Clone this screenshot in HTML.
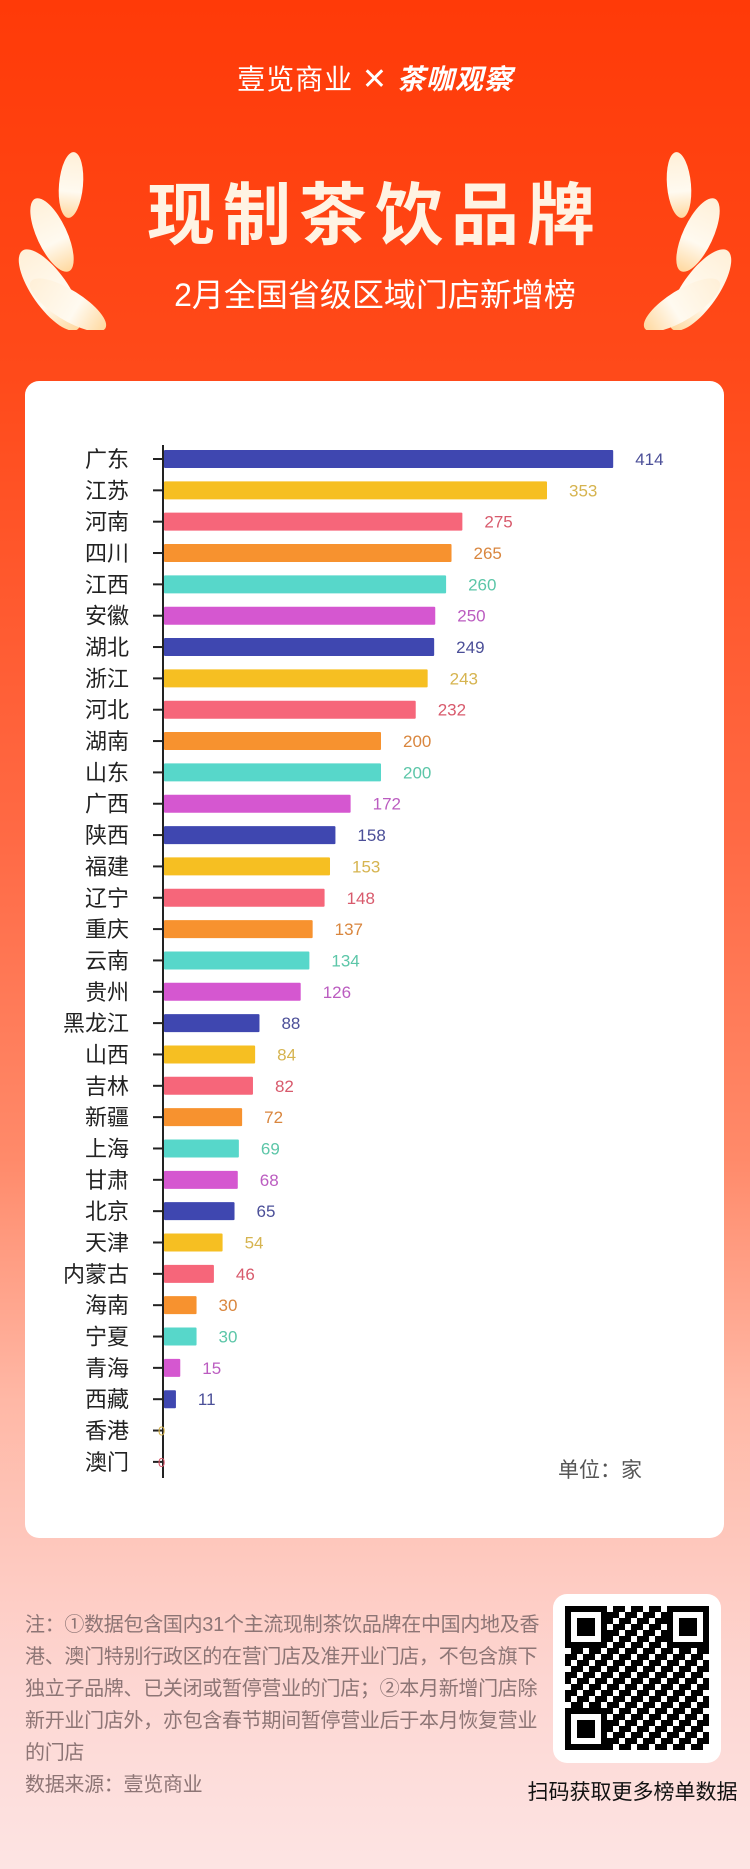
<!DOCTYPE html>
<html><head><meta charset="utf-8"><style>
html,body{margin:0;padding:0}
body{width:750px;height:1869px;position:relative;overflow:hidden;font-family:"Liberation Sans","Noto Sans CJK SC",sans-serif;
background:linear-gradient(180deg,#ff3a08 0%,#ff4a1a 20%,#ff6a45 45%,#ff8a6a 62%,#ffb8a6 75%,#fdd6d2 90%,#fde4e3 100%);}
.abs{position:absolute}
.card{left:25px;top:381px;width:699px;height:1157px;background:#fff;border-radius:14px}
.note{left:25px;top:1609px;font-size:20px;letter-spacing:-0.3px;line-height:32px;color:#8d7575;white-space:nowrap}
</style></head><body>
<div class="abs" style="left:0;top:58px;width:750px;text-align:center;color:#fff;font-size:28px;font-weight:bold;letter-spacing:1px">
<span style="font-weight:normal">壹览商业</span> <span style="font-weight:normal;font-size:30px">✕</span> <i>茶咖观察</i></div>
<div class="abs" style="left:0;top:160px;width:750px;text-align:center;color:#fff3e3;font-size:68px;font-weight:bold;letter-spacing:8px">现制茶饮品牌</div>
<div class="abs" style="left:0;top:270px;width:750px;text-align:center;color:#fff;font-size:32px">2月全国省级区域门店新增榜</div>
<svg class="abs" style="left:0;top:150px" width="750" height="180">
<defs><linearGradient id="lf" x1="0" y1="0" x2="0" y2="1"><stop offset="0" stop-color="#fff0d8"/><stop offset="0.6" stop-color="#fffaf0"/><stop offset="1" stop-color="#ffd9a0"/></linearGradient></defs>
<g fill="url(#lf)">
<ellipse cx="71" cy="35" rx="12" ry="33" transform="rotate(5 71 35)"/>
<ellipse cx="52" cy="85" rx="15" ry="40" transform="rotate(-25 52 85)"/>
<ellipse cx="50" cy="140" rx="18" ry="48" transform="rotate(-35 50 140)"/>
<ellipse cx="68" cy="155" rx="15" ry="44" transform="rotate(-58 68 155)"/>
<ellipse cx="679" cy="35" rx="12" ry="33" transform="rotate(-5 679 35)"/>
<ellipse cx="698" cy="85" rx="15" ry="40" transform="rotate(25 698 85)"/>
<ellipse cx="700" cy="140" rx="18" ry="48" transform="rotate(35 700 140)"/>
<ellipse cx="682" cy="155" rx="15" ry="44" transform="rotate(58 682 155)"/>
</g></svg>
<div class="abs card"></div>
<svg class="abs" style="left:0;top:0" width="750" height="1560" font-family="Liberation Sans, Noto Sans CJK SC, sans-serif">
<line x1="163" y1="445" x2="163" y2="1478" stroke="#222" stroke-width="2"/>
<g id="rows"></g>
<text x="558" y="1477" font-size="21" fill="#555">单位：家</text>
</svg>
<div class="abs note">注：①数据包含国内31个主流现制茶饮品牌在中国内地及香<br>港、澳门特别行政区的在营门店及准开业门店，不包含旗下<br>独立子品牌、已关闭或暂停营业的门店；②本月新增门店除<br>新开业门店外，亦包含春节期间暂停营业后于本月恢复营业<br>的门店<br>数据来源：壹览商业</div>
<div class="abs" style="left:553px;top:1594px;width:168px;height:169px;background:#fff;border-radius:14px"></div>
<svg class="abs" style="left:565px;top:1606px" width="144" height="144">
<defs><pattern id="qp" width="18" height="18" patternUnits="userSpaceOnUse">
<rect x="0" y="0" width="6" height="6"/><rect x="12" y="0" width="6" height="12"/><rect x="6" y="6" width="6" height="6"/><rect x="0" y="12" width="12" height="6"/></pattern></defs>
<rect x="0" y="0" width="144" height="144" fill="url(#qp)"/>
<g><rect x="0" y="0" width="42" height="42" fill="#fff"/><rect x="3" y="3" width="36" height="36" fill="none" stroke="#000" stroke-width="6"/><rect x="12" y="12" width="18" height="18"/>
<rect x="102" y="0" width="42" height="42" fill="#fff"/><rect x="105" y="3" width="36" height="36" fill="none" stroke="#000" stroke-width="6"/><rect x="114" y="12" width="18" height="18"/>
<rect x="0" y="102" width="42" height="42" fill="#fff"/><rect x="3" y="105" width="36" height="36" fill="none" stroke="#000" stroke-width="6"/><rect x="12" y="114" width="18" height="18"/></g>
</svg>
<div class="abs" style="left:520px;top:1776px;width:225px;text-align:center;font-size:21px;color:#111">扫码获取更多榜单数据</div>
<script>
var d=[["广东",414],["江苏",353],["河南",275],["四川",265],["江西",260],["安徽",250],["湖北",249],["浙江",243],["河北",232],["湖南",200],["山东",200],["广西",172],["陕西",158],["福建",153],["辽宁",148],["重庆",137],["云南",134],["贵州",126],["黑龙江",88],["山西",84],["吉林",82],["新疆",72],["上海",69],["甘肃",68],["北京",65],["天津",54],["内蒙古",46],["海南",30],["宁夏",30],["青海",15],["西藏",11],["香港",0],["澳门",0]];
var bc=["#3f47b0","#f6bf22","#f6667a","#f7922f","#57d7ca","#d557d0"];
var tc=["#4b4f98","#d6b450","#d85a6c","#d9863e","#5cc6a8","#bb5cc0"];
var s="";
for(var i=0;i<d.length;i++){var y=459+i*31.34,w=d[i][1]*1.085,c=i%6;
s+='<text x="129" y="'+(y+8)+'" font-size="22" text-anchor="end" fill="#222">'+d[i][0]+'</text>';
s+='<line x1="153" y1="'+y+'" x2="163" y2="'+y+'" stroke="#222" stroke-width="2"/>';
if(w>0){s+='<rect x="164" y="'+(y-9)+'" width="'+w+'" height="18" rx="1" fill="'+bc[c]+'"/>';
s+='<text x="'+(164+w+22)+'" y="'+(y+6)+'" font-size="17" fill="'+tc[c]+'">'+d[i][1]+'</text>';}
else{s+='<text x="158" y="'+(y+5)+'" font-size="13" fill="'+tc[c]+'">0</text>';}}
document.getElementById("rows").innerHTML=s;
</script>
</body></html>
